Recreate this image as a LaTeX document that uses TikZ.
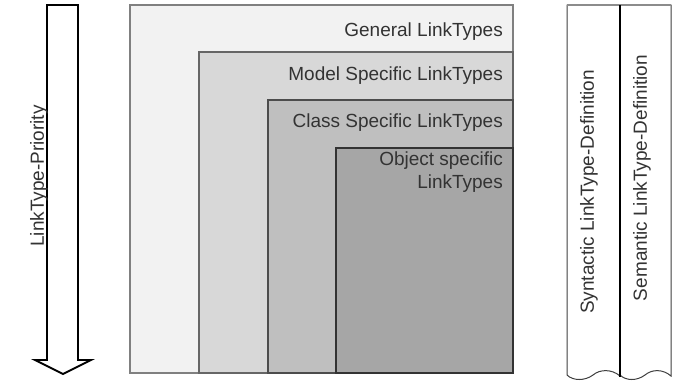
\documentclass[tikz,border=0pt]{standalone}
\usepackage{fontspec}
\setmainfont{Liberation Sans}
\definecolor{txt}{HTML}{333333}
\definecolor{lvlA}{HTML}{F2F2F2}
\definecolor{lvlB}{HTML}{D8D8D8}
\definecolor{lvlC}{HTML}{BFBFBF}
\definecolor{lvlD}{HTML}{A6A6A6}
\tikzset{
  label/.style={text=txt, font=\fontsize{19}{21.5}\selectfont, inner sep=0pt},
  lvlbox/.style={line width=1.6pt, line join=miter},
  pillar/.style={draw=black!75, line width=1pt, fill=white},
}
\begin{document}
\begin{tikzpicture}[x=1pt,y=-1pt]
\useasboundingbox (0,0) rectangle (681,381);

% priority arrow
\draw[line width=1.8pt, fill=white, line join=miter]
  (47,5) -- (78,5) -- (78,360) -- (91,360) -- (63,374) -- (35,360) -- (47,360) -- cycle;
\node[label, rotate=90] (prio) at (39,176) {LinkType-Priority};

% nested levels of link types
\draw[lvlbox, draw=black!50, fill=lvlA] (130,5) rectangle (513,373);
\draw[lvlbox, draw=black!60, fill=lvlB] (199,52) rectangle (513,373);
\draw[lvlbox, draw=black!70, fill=lvlC] (268,100) rectangle (513,373);
\draw[lvlbox, draw=black!80, fill=lvlD] (336,148) rectangle (513,373);

\node[label, anchor=east] (gen) at (503,32) {General LinkTypes};
\node[label, anchor=east] (mod) at (503,76) {Model Specific LinkTypes};
\node[label, anchor=east] (cls) at (503,123) {Class Specific LinkTypes};
\node[label, anchor=east, align=right] (obj) at (503,172) {Object specific\\[1.5pt]LinkTypes};

% definition pillars with torn bottoms
\path[pillar] (567,5) -- (620,5) -- (620,376)
  .. controls (612,369) and (600,369) .. (593,375)
  .. controls (585,381) and (573,381) .. (567,375) -- cycle;
\path[pillar] (620,5) -- (671,5) -- (671,376)
  .. controls (663,369) and (652,369) .. (645,375)
  .. controls (637,381) and (626,381) .. (620,375) -- cycle;
\draw[draw=black!45, line width=1.4pt] (567,5) -- (671,5);
\draw[line width=2pt] (620,5) -- (620,377);

\node[label, rotate=90] (syn) at (589,192) {Syntactic LinkType-Definition};
\node[label, rotate=90] (sem) at (642,178) {Semantic LinkType-Definition};
\end{tikzpicture}
\end{document}
